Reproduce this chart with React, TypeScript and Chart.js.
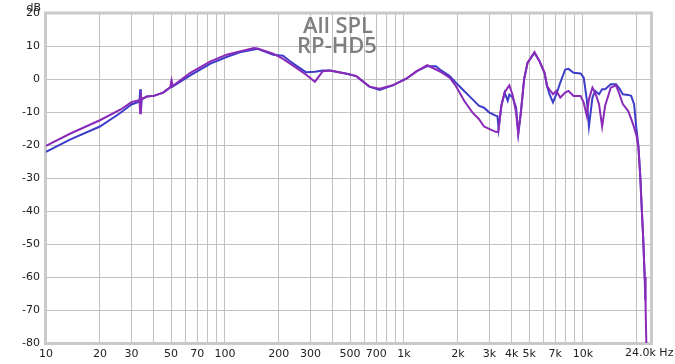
import React, { useEffect, useRef } from "react";
import { Chart, registerables } from "chart.js";

Chart.register(...registerables);

const titleLines = ["All SPL", "RP-HD5"];

const gridFreqs = [
  10, 20, 30, 40, 50, 60, 70, 80, 90,
  100, 200, 300, 400, 500, 600, 700, 800, 900,
  1000, 2000, 3000, 4000, 5000, 6000, 7000, 8000, 9000,
  10000, 20000, 24000,
];
const labeledFreqs: Record<number, string> = {
  10: "10", 20: "20", 30: "30", 50: "50", 70: "70", 100: "100",
  200: "200", 300: "300", 500: "500", 700: "700", 1000: "1k",
  2000: "2k", 3000: "3k", 4000: "4k", 5000: "5k", 7000: "7k", 10000: "10k",
};

const freqBlue = [
  10, 13.6, 20, 26, 30, 33, 33.3, 33.6, 33.9, 34.3, 36.6, 40, 45, 50, 50.3, 51, 64, 83, 102, 121, 152, 186, 211, 230, 250, 283, 318, 352, 386, 479, 542, 641, 731, 865,
  1030, 1180, 1350, 1510, 1590, 1800, 1950, 2170, 2410, 2620, 2800, 2990, 3250, 3330, 3380, 3500, 3650, 3800, 3880, 4050, 4230, 4350, 4500, 4690, 4900, 5360, 5720, 6100, 6300, 6500, 6800, 7100, 7470, 7960, 8300, 8870, 9700, 10100, 10500, 10800, 11300, 11700, 12300, 12800, 13300, 14300, 15300, 16000, 16700, 17900, 18600, 19300, 19900, 20400, 20900, 21300, 21700, 22100, 22300,
];
const splBlue = [
  -22.0, -18.3, -14.3, -10.2, -7.6, -6.8, -6.6, -3.0, -9.5, -6.0, -5.2, -5.0, -4.1, -2.3, -1.5, -2.2, 1.2, 4.8, 6.8, 8.2, 9.3, 7.5, 7.2, 5.6, 4.2, 2.2, 2.3, 2.7, 2.7, 1.7, 1.0, -2.2, -3.2, -1.8,
  0.2, 2.5, 4.0, 4.0, 3.0, 1.0, -1.0, -3.5, -6.0, -8.0, -8.6, -10.0, -11.0, -11.2, -15.0, -8.0, -4.0, -6.5, -4.6, -5.5, -8.5, -16.4, -10.0, 0.0, 5.0, 8.0, 5.5, 2.0, -2.0, -4.5, -7.0, -4.5, -1.0, 3.0, 3.2, 2.0, 1.8, 0.5, -6.0, -14.3, -5.5, -3.5, -4.5, -3.0, -3.0, -1.5, -1.5, -2.8, -4.5, -4.7, -5.0, -7.5, -15.0, -20.0, -29.0, -39.0, -48.0, -59.0, -67.0,
];

const freqPurple = [
  10, 13.6, 20, 26, 30, 33, 33.3, 33.6, 33.9, 34.3, 36.6, 40, 45, 49.5, 50.3, 51, 64, 83, 102, 121, 145, 152, 186, 211, 240, 283, 318, 352, 386, 479, 542, 641, 731, 865,
  1030, 1180, 1350, 1510, 1590, 1800, 1950, 2170, 2410, 2620, 2800, 2990, 3250, 3360, 3500, 3650, 3800, 3880, 4050, 4230, 4350, 4500, 4690, 4900, 5360, 5720, 6100, 6300, 6800, 7100, 7470, 7960, 8300, 8870, 9700, 10100, 10500, 10800, 11300, 11700, 12300, 12800, 13300, 14300, 15300, 16000, 16700, 17900, 18600, 19300, 19900, 20400, 20900, 21300, 21700, 22100, 22250, 22350, 22450, 22600,
];
const splPurple = [
  -20.2, -16.5, -12.4, -9.2, -6.9, -6.3, -6.2, -10.3, -5.0, -6.0, -5.2, -5.0, -4.0, -2.3, -0.3, -2.0, 2.0, 5.5, 7.5, 8.5, 9.5, 9.4, 7.8, 6.2, 4.2, 1.5, -0.7, 2.5, 2.7, 1.7, 1.0, -2.2, -2.8, -1.8,
  0.2, 2.5, 4.3, 3.0, 2.4, 0.5, -2.0, -6.5, -10.0, -12.0, -14.3, -15.0, -15.9, -16.0, -8.0, -4.0, -2.5, -1.8, -4.8, -10.0, -16.6, -10.0, 0.0, 5.0, 8.3, 5.5, 2.0, -2.0, -4.5, -3.5, -5.5, -4.0, -3.5, -5.0, -5.0, -7.0, -11.0, -6.0, -2.5, -4.0, -7.5, -14.3, -8.0, -2.5, -1.8, -4.5, -7.5, -9.6, -12.0, -14.5, -17.0, -20.5, -29.5, -39.0, -48.0, -59.4, -62.0, -60.0, -70.0, -80.0,
];

const yMin = -80;
const yMax = 20;

const framePlugin = {
  id: "framePlugin",
  beforeDatasetsDraw(chart: any) {
    const { ctx, chartArea } = chart;
    ctx.save();
    ctx.strokeStyle = "#cacaca";
    ctx.lineWidth = 3;
    ctx.strokeRect(chartArea.left - 0.5, chartArea.top - 0.5, chartArea.right - chartArea.left + 1, chartArea.bottom - chartArea.top + 1);
    ctx.restore();
  },
  afterDraw(chart: any) {
    const { ctx, chartArea } = chart;
    ctx.save();
    ctx.fillStyle = "#7f7f7f";
    ctx.font = "600 22px 'Open Sans'";
    ctx.textAlign = "center";
    ctx.textBaseline = "alphabetic";
    ctx.fillText(titleLines[0], 338, 33);
    ctx.fillText(titleLines[1], 337, 53);
    ctx.fillStyle = "#222";
    ctx.font = "11px 'DejaVu Sans'";
    ctx.textAlign = "right";
    ctx.fillText("dB", 41, 10.5);
    ctx.textAlign = "left";
    ctx.textBaseline = "top";
    ctx.fillText("24.0k Hz", 625, chartArea.bottom + 5);
    ctx.restore();
  },
};

export default function App() {
  const ref = useRef<HTMLCanvasElement>(null);
  useEffect(() => {
    const chart = new Chart(ref.current!, {
      type: "line",
      data: {
        datasets: [
          {
            label: "purple",
            data: freqPurple.map((f, i) => ({ x: f, y: splPurple[i] })),
            borderColor: "#8a2ab8",
            borderWidth: 2,
            pointRadius: 0,
            tension: 0,
          },
          {
            label: "blue",
            data: freqBlue.map((f, i) => ({ x: f, y: splBlue[i] })),
            borderColor: "#3d3dc9",
            borderWidth: 2,
            pointRadius: 0,
            tension: 0,
          },
        ],
      },
      options: {
        animation: false,
        responsive: false,
        devicePixelRatio: 1,
        layout: { padding: { top: 13.5, right: 24, left: 0, bottom: 0 } },
        plugins: { legend: { display: false }, tooltip: { enabled: false } },
        scales: {
          x: {
            type: "logarithmic",
            min: 10,
            max: 24000,
            afterBuildTicks: (scale: any) => {
              scale.ticks = gridFreqs.map((v) => ({ value: v }));
            },
            afterFit: (scale: any) => {
              scale.height = 21;
            },
            ticks: {
              autoSkip: false,
              maxRotation: 0,
              padding: 5,
              color: "#222",
              font: { family: "'DejaVu Sans'", size: 11 },
              callback: (v: any) => labeledFreqs[Number(v)] ?? "",
            },
            grid: {
              color: (c: any) => (c.tick && c.tick.value === 24000 ? "rgba(0,0,0,0)" : "#c2c2c2"),
              lineWidth: 1,
              drawTicks: false,
            },
            border: { display: false },
          },
          y: {
            type: "linear",
            min: yMin,
            max: yMax,
            afterFit: (scale: any) => {
              scale.width = 46;
            },
            ticks: {
              stepSize: 10,
              padding: 6,
              color: "#222",
              font: { family: "'DejaVu Sans'", size: 11 },
            },
            grid: { color: "#c2c2c2", lineWidth: 1, drawTicks: false },
            border: { display: false },
          },
        },
      },
      plugins: [framePlugin],
    } as any);
    return () => chart.destroy();
  }, []);
  return (
    <div style={{ position: "fixed", left: 0, top: 0, width: 675, height: 364, background: "#fff" }}>
      <canvas ref={ref} width={675} height={364} />
    </div>
  );
}
